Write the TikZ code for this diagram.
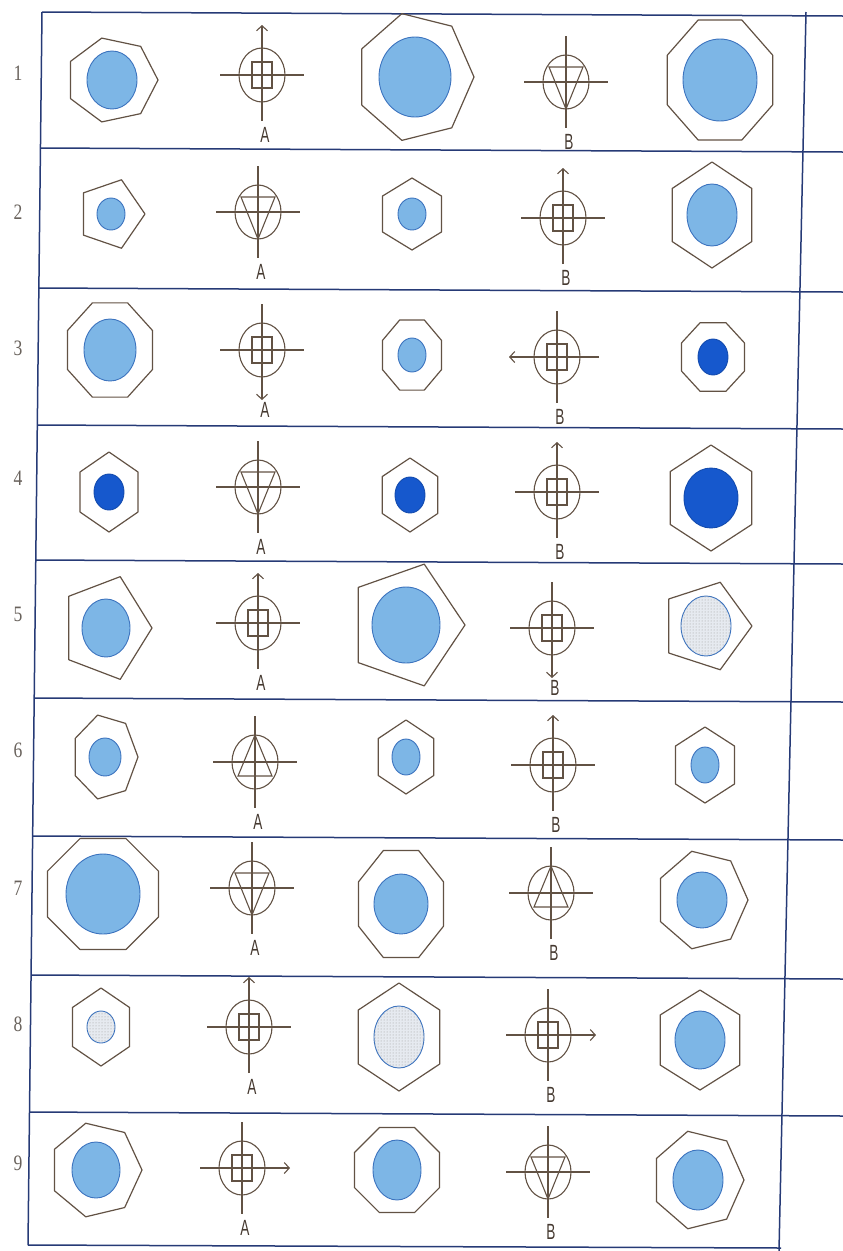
\documentclass[tikz,border=0pt]{standalone}
\usepackage{fontspec}
\usetikzlibrary{arrows.meta,patterns}

\newfontfamily\labfont[FakeStretch=0.62]{Liberation Sans}
\newfontfamily\numfont[FakeStretch=0.8]{Liberation Serif}

\definecolor{ink}{RGB}{98,82,68}
\definecolor{rulecol}{RGB}{38,58,118}
\definecolor{paleblue}{RGB}{125,182,230}
\definecolor{paleedge}{RGB}{60,115,190}
\definecolor{deepblue}{RGB}{22,88,205}
\definecolor{dotfill}{RGB}{230,234,240}
\definecolor{numgrey}{RGB}{105,98,92}

\tikzset{
  outline/.style={draw=ink, line width=1.2pt, line join=round},
  sym/.style={draw=ink, line width=1.1pt},
  barb/.style={-{Straight Barb[length=5pt,width=11pt]}},
  rule/.style={draw=rulecol, line width=1.5pt},
  discpale/.style={fill=paleblue, draw=paleedge, line width=0.9pt},
  discdeep/.style={fill=deepblue, draw=deepblue!85!black, line width=0.9pt},
  discdot/.style={fill=dotfill, draw=paleedge, line width=0.9pt,
    postaction={pattern=dots, pattern color=gray!80}},
  lab/.style={font=\labfont\fontsize{22}{22}\selectfont, text=ink!70!black, inner sep=0pt},
  rownum/.style={font=\numfont\fontsize{22}{22}\selectfont, text=numgrey, inner sep=0pt},
  % inner marks of the symbols
  box/.pic={\draw[sym] (-10,-13) rectangle (10,13);},
  vdown/.pic={\draw[sym] (-17,-15) -- (17,-15) -- (0,27) -- cycle;},
  vup/.pic={\draw[sym] (0,-27) -- (17,14) -- (-17,14) -- cycle;},
  % ring and cross hairs, with or without a barb
  crossnone/.pic={\draw[sym] (0,0) ellipse [x radius=23, y radius=27];
    \draw[sym] (-42,0) -- (42,0); \draw[sym] (0,-46) -- (0,46);},
  crossup/.pic={\draw[sym] (0,0) ellipse [x radius=23, y radius=27];
    \draw[sym] (-42,0) -- (42,0); \draw[sym,barb] (0,46) -- (0,-50);},
  crossdown/.pic={\draw[sym] (0,0) ellipse [x radius=23, y radius=27];
    \draw[sym] (-42,0) -- (42,0); \draw[sym,barb] (0,-46) -- (0,50);},
  crossleft/.pic={\draw[sym] (0,0) ellipse [x radius=23, y radius=27];
    \draw[sym,barb] (42,0) -- (-48,0); \draw[sym] (0,-46) -- (0,46);},
  crossright/.pic={\draw[sym] (0,0) ellipse [x radius=23, y radius=27];
    \draw[sym,barb] (-42,0) -- (48,0); \draw[sym] (0,-46) -- (0,46);},
}

\begin{document}
\begin{tikzpicture}[x=1pt, y=-1pt]
    \useasboundingbox (0,0) rectangle (843,1251);

    % Table rules
    \foreach \y in {12,148,288,425,560,698,836,975,1112}
        \draw[rule] ({42-0.0114*(\y-12)},\y) -- (843,{\y+4});
    \draw[rule] (28,1245) -- (781,1248);
    \draw[rule] (42,12) -- (28,1245);
    \draw[rule] (806,12) -- (779,1251);

    % Row numbers
    \foreach \r/\y in {1/73,2/212,3/348,4/478,5/614,6/750,7/888,8/1024,9/1163}
        \node[rownum] (row\r) at (18,\y) {\r};

    % Polygons with their discs: x/y/sides/turn/rx/ry/disc rx/disc ry/fill
    \foreach \px/\py/\sides/\a/\rx/\ry/\ex/\ey/\disc in {
        112/80/7/0/46/43/25/29/discpale, 415/77/7/0/59/65/36/40/discpale, 720/80/8/22.5/57/65/37/41/discpale,
        111/214/5/0/34/36/14/16/discpale, 412/214/6/90/34/36/14/16/discpale, 712/215/6/90/46/53/25/31/discpale,
        110/350/8/22.5/46/51/26/31/discpale, 412/355/8/22.5/32/38/14/17/discpale, 713/357/8/22.5/34/37/15/18/discdeep,
        109/492/6/90/33.5/40/15/18/discdeep, 410/495/6/90/32/37/15/18/discdeep, 711/498/6/90/47/53/27/30/discdeep,
        106/628/5/0/46/54/24/29/discpale, 406/625/5/0/59/64/34/38/discpale, 706/626/5/0/46/46/25/30/discdot,
        105/757/7/0/33/43/16/19/discpale, 406/757/6/90/32/37/14/18/discpale, 705/765/6/90/34/38/14/18/discpale,
        103/894/8/22.5/60/60/37/40/discpale, 401/904/8/22.5/46/58/27/30/discpale, 702/900/7/0/46/50/25/28/discpale,
        101/1027/6/90/33/39/14/16/discdot, 399/1037/6/90/47/54/25/31/discdot, 700/1040/6/90/46/50/25/29/discpale,
        96/1170/7/0/46/48/24/28/discpale, 397/1170/8/22.5/46/46/24/30/discpale, 698/1180/7/0/46/50/25/30/discpale}
    {
        \draw[outline] ({\px+\rx*cos(\a)},{\py+\ry*sin(\a)})
            \foreach \k in {1,...,\sides} { -- ({\px+\rx*cos(\a+360*\k/\sides)},{\py+\ry*sin(\a+360*\k/\sides)}) } -- cycle;
        \draw[\disc] (\px,\py) ellipse [x radius=\ex, y radius=\ey];
    }

    % Symbols A and B: row/x/y/mark/barb/label
    \foreach \r/\sx/\sy/\mark/\dir/\lab in {
        1/262/75/box/up/A, 1/566/82/vdown/none/B,
        2/258/212/vdown/none/A, 2/563/218/box/up/B,
        3/262/350/box/down/A, 3/557/357/box/left/B,
        4/258/487/vdown/none/A, 4/557/492/box/up/B,
        5/258/623/box/up/A, 5/552/628/box/down/B,
        6/255/762/vup/none/A, 6/553/765/box/up/B,
        7/252/888/vdown/none/A, 7/551/893/vup/none/B,
        8/249/1027/box/up/A, 8/548/1035/box/right/B,
        9/242/1168/box/right/A, 9/548/1172/vdown/none/B}
    {
        \pic at (\sx,\sy) {cross\dir};
        \pic at (\sx,\sy) {\mark};
        \node[lab] (\lab\r) at ({\sx+3},{\sy+60}) {\lab};
    }
\end{tikzpicture}
\end{document}
